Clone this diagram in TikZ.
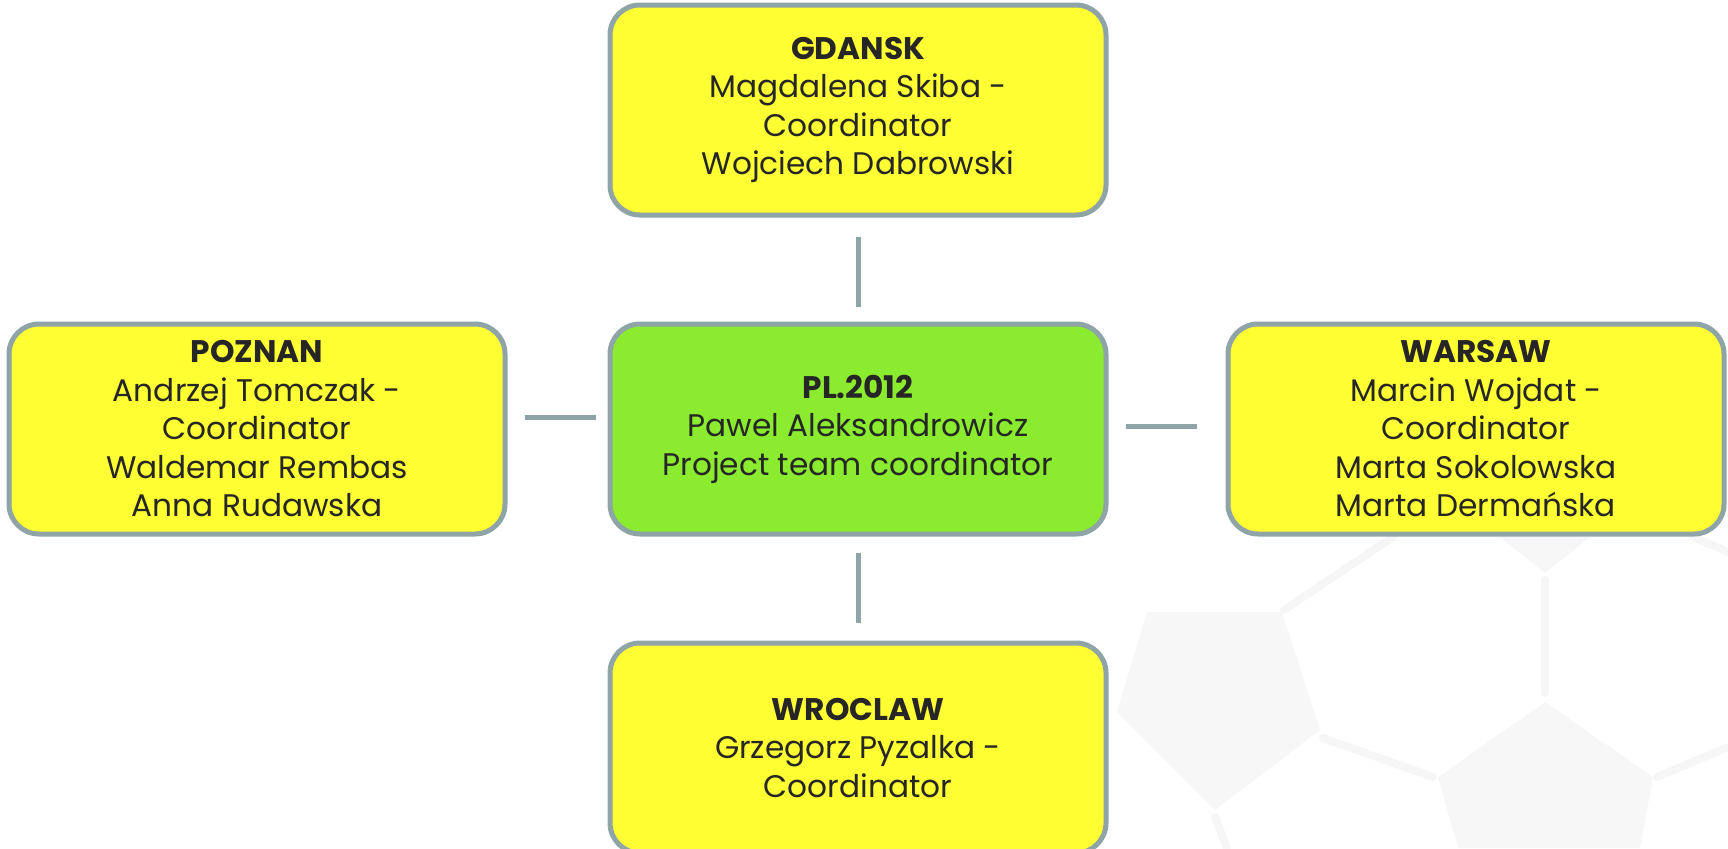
\documentclass[tikz,border=0pt]{standalone}
\usepackage{fontspec}
\setmainfont{Poppins}
\usetikzlibrary{positioning}
\definecolor{rim}{HTML}{8EA4A7}
\definecolor{cityfill}{HTML}{FFFF33}
\definecolor{hubfill}{HTML}{8AEB2F}
\definecolor{ink}{HTML}{262626}
\definecolor{ballgray}{HTML}{F7F7F7}
\definecolor{seamgray}{HTML}{F6F6F6}

\begin{document}
\begin{tikzpicture}[
            x=0.5pt, y=-0.5pt,
            every node/.style={ font=\fontsize{15.6}{19.25}\selectfont, text=ink, align=center },
            city/.style={ draw=rim, line width=2.5pt, fill=cityfill, rounded corners=15pt,
                          minimum width=248pt, minimum height=105pt, inner sep=0pt },
            hub/.style={ city, fill=hubfill },
            link/.style={ draw=rim, line width=2.5pt },
            patch/.style={ fill=ballgray },
            seam/.style={ draw=seamgray, line width=4pt, line cap=round }
        ]
        \useasboundingbox (0,0) rectangle (1728,848);

        \fill[patch] (1147,612) -- (1282,612) -- (1320,730) -- (1215,810) -- (1117,712) -- cycle;
        \fill[patch] (1438,777) -- (1545,702) -- (1653,777) -- (1640,848) -- (1458,848) -- cycle;
        \fill[patch] (1500,537) -- (1545,573) -- (1590,537) -- cycle;
        \draw[seam] (1284,610) -- (1393,537);
        \draw[seam] (1323,738) -- (1433,777);
        \draw[seam] (1215,817) -- (1227,848);
        \draw[seam] (1545,580) -- (1545,693);
        \draw[seam] (1657,777) -- (1728,747);
        \draw[seam] (1693,537) -- (1728,552);

        \node[hub] (pl) at (858,429) {\textbf{PL.2012}\\Pawel Aleksandrowicz\\Project team coordinator};
        \node[city, above=52pt of pl] (gdansk) {\textbf{GDANSK}\\Magdalena Skiba -\\Coordinator\\Wojciech Dabrowski};
        \node[city, left=50pt of pl] (poznan) {\textbf{POZNAN}\\Andrzej Tomczak -\\Coordinator\\Waldemar Rembas\\Anna Rudawska};
        \node[city, right=58.5pt of pl] (warsaw) {\textbf{WARSAW}\\Marcin Wojdat -\\Coordinator\\Marta Sokolowska\\Marta Dermańska};
        \node[city, below=52pt of pl] (wroclaw) {\textbf{WROCLAW}\\Grzegorz Pyzalka -\\Coordinator};

        \draw[link, shorten <=9.5pt, shorten >=7.5pt] (gdansk) -- (pl);
        \draw[link, shorten <=8pt, shorten >=9pt] (pl) -- (wroclaw);
        \draw[link, shorten <=8.5pt, shorten >=6pt] ([yshift=6pt]poznan.east) -- ([yshift=6pt]pl.west);
        \draw[link, shorten <=8.5pt, shorten >=14.5pt] ([yshift=1.5pt]pl.east) -- ([yshift=1.5pt]warsaw.west);
    \end{tikzpicture}
\end{document}
